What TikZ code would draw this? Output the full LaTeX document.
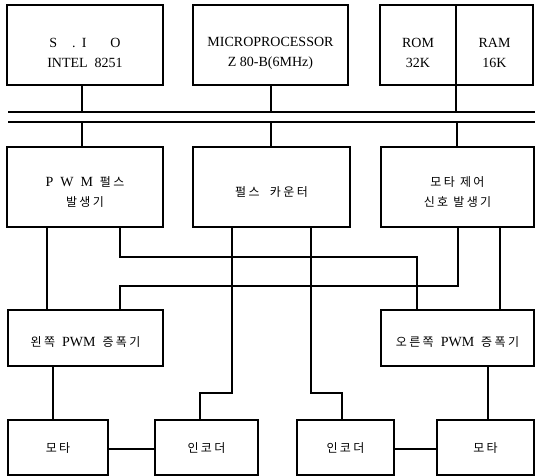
\documentclass[tikz,border=0pt]{standalone}
\usepackage{fontspec}
\setmainfont{Liberation Serif}
\newfontfamily\kr[LetterSpace=20]{Noto Sans CJK KR}
\newcommand{\ko}[1]{{\kr\fontsize{12}{20}\selectfont #1}}
\begin{document}
\begin{tikzpicture}[x=1pt, y=-1pt, line width=1.4pt,
    blk/.style={draw, inner sep=0pt},
    txt/.style={align=center, inner sep=0pt, font=\fontsize{14}{20}\selectfont},
    ttl/.style 2 args={label={[txt, yshift=#1]center:{#2}}},
    wide/.style={blk, minimum width=156pt, minimum height=80pt},
    low/.style={blk, minimum width=155pt, minimum height=56pt},
    small/.style={blk, minimum height=55pt}]
    \useasboundingbox (0,0) rectangle (535,476);

    % blocchi in alto
    \node[wide, ttl={-8pt}{S\hspace{15pt}.\hspace{6pt}I\hspace{24pt}O\\INTEL\ \ 8251}] (sio) at (85,45) {};
    \node[wide, minimum width=155pt, ttl={-8pt}{MICROPROCESSOR\\Z 80-B(6MHz)}] (cpu) at (270.5,45) {};
    \node[blk, minimum width=76pt, minimum height=80pt, ttl={-8pt}{ROM\\32K}] (rom) at (418,45) {};
    \node[blk, minimum width=77pt, minimum height=80pt, ttl={-8pt}{RAM\\16K}] (ram) at (494.5,45) {};

    % bus
    \coordinate (busAw) at (8,112);
    \coordinate (busAe) at (535,112);
    \coordinate (busBw) at (8,122);
    \coordinate (busBe) at (535,122);
    \draw (busAw) -- (busAe);
    \draw (busBw) -- (busBe);

    % blocchi centrali
    \node[wide, ttl={-5pt}{P\ \ W\ \ M\ \ \ko{펄스}\\\ko{발생기}}] (pwm) at (85,187) {};
    \node[wide, minimum width=157pt, ttl={-5pt}{\ko{펄스\ \ 카운터}}] (cnt) at (271.5,187) {};
    \node[wide, minimum width=153pt, ttl={-5pt}{\ko{모타 제어}\\\ko{신호 발생기}}] (mctl) at (457.5,187) {};

    % amplificatori
    \node[low, ttl={-4pt}{\ko{왼쪽}\ \ PWM\ \ \ko{증폭기}}] (lamp) at (85.5,338) {};
    \node[low, minimum width=153pt, ttl={-4pt}{\ko{오른쪽}\ \ PWM\ \ \ko{증폭기}}] (ramp) at (457.5,338) {};

    % motori ed encoder
    \node[small, minimum width=100pt, ttl={-1pt}{\ko{모타}}] (lmot) at (58,447.5) {};
    \node[small, minimum width=103pt, ttl={-1pt}{\ko{인코더}}] (lenc) at (206.5,447.5) {};
    \node[small, minimum width=97pt, ttl={-1pt}{\ko{인코더}}] (renc) at (345.5,447.5) {};
    \node[small, minimum width=97pt, ttl={-1pt}{\ko{모타}}] (rmot) at (485.5,447.5) {};

    % collegamenti al bus
    \draw (sio.south -| 82,0) -- (busAw -| 82,0);
    \draw (cpu.south -| 271,0) -- (busAw -| 271,0);
    \draw (rom.south -| 456,0) -- (busAw -| 456,0);
    \draw (busBw -| 82,0) -- (pwm.north -| 82,0);
    \draw (busBw -| 271,0) -- (cnt.north -| 271,0);
    \draw (busBw -| 457,0) -- (mctl.north -| 457,0);

    % segnali PWM e di controllo
    \draw (pwm.south -| 47,0) -- (lamp.north -| 47,0);
    \draw (pwm.south -| 120,0) |- (417,257) -- (ramp.north -| 417,0);
    \draw (mctl.south -| 458,0) |- (120,286) -- (lamp.north -| 120,0);
    \draw (mctl.south -| 500,0) -- (ramp.north -| 500,0);

    % contatore ed encoder
    \draw (cnt.south -| 232,0) |- (200,393) -- (lenc.north -| 200,0);
    \draw (cnt.south -| 311,0) |- (342,393) -- (renc.north -| 342,0);

    % amplificatori e motori
    \draw (lamp.south -| 53,0) -- (lmot.north -| 53,0);
    \draw (ramp.south -| 488,0) -- (rmot.north -| 488,0);
    \draw (lmot.east |- 0,449) -- (lenc.west |- 0,449);
    \draw (renc.east |- 0,449) -- (rmot.west |- 0,449);
\end{tikzpicture}
\end{document}
